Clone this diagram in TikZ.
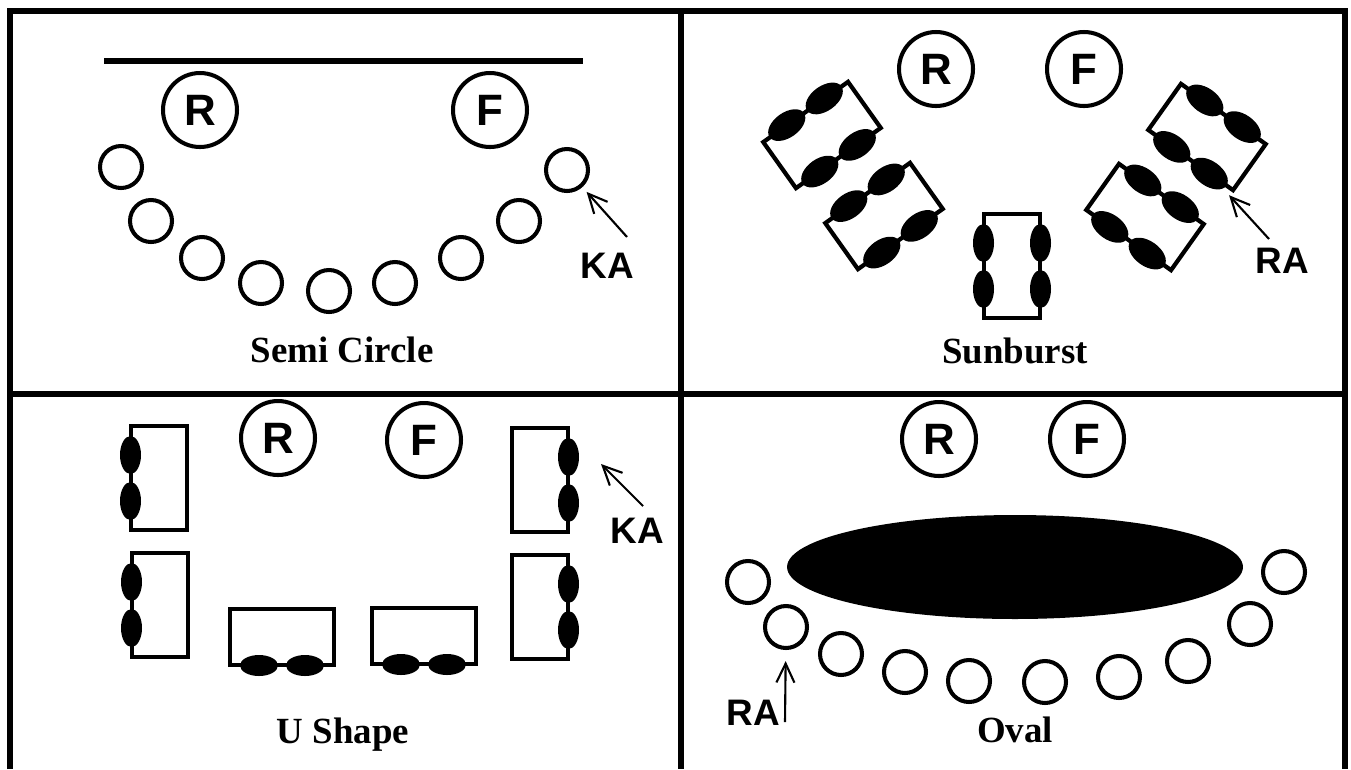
\documentclass[tikz,border=0pt]{standalone}
\usepackage{fontspec}
\setmainfont{Liberation Serif}
\setsansfont{Liberation Sans}
\usetikzlibrary{arrows.meta,shapes.geometric}
\tikzset{
    seating plan/.style = {x=0.02cm, y=-0.02cm,
                           >={Straight Barb[length=3.8mm, width=3.6mm]}},
    frame/.style        = {line width=3pt},
    podium/.style       = {line width=2.9pt},
    lead/.style         = {draw, circle, line width=2.3pt, inner sep=0pt,
                           minimum size=1.48cm,
                           font=\sffamily\bfseries\fontsize{25}{30}\selectfont},
    seat/.style         = {draw, circle, line width=2.3pt, inner sep=0pt,
                           minimum size=0.84cm},
    desk/.style         = {draw, rectangle, line width=2.4pt, inner sep=0pt,
                           minimum width=2.08cm, minimum height=1.13cm},
    chair/.style        = {ellipse, fill, inner sep=0pt,
                           minimum width=0.76cm, minimum height=0.42cm},
    wide chairs/.style  = {chair/.append style={minimum width=0.84cm,
                                                minimum height=0.5cm}},
    oval desk/.style    = {ellipse, fill, inner sep=0pt,
                           minimum width=9.12cm, minimum height=2.08cm},
    pointer/.style      = {->, line width=1.2pt},
    tag/.style          = {anchor=base,
                           font=\sffamily\bfseries\fontsize{21}{25}\selectfont},
    plan name/.style    = {anchor=base,
                           font=\bfseries\fontsize{21}{25}\selectfont}
}
% desk with two chairs on each listed long side (-1, 1)
\newcommand\placedesk[6][]{%
    \begin{scope}[#1, shift={(#3,#4)}, rotate=#5, transform shape]
        \node[desk] (#2) at (0,0) {};
        \foreach \s in {#6} {
            \node[chair] (#2a\s) at (-23,\s*28.5) {};
            \node[chair] (#2b\s) at (23,\s*28.5) {};
        }
    \end{scope}}

\begin{document}
\begin{tikzpicture}[seating plan]
\useasboundingbox (0,0) rectangle (1351,769);

% Panel frame, open at the bottom edge.
\draw[frame] (10,769) -- (10,11) -- (1345,11) -- (1345,769);
\draw[frame] (10,394) -- (1345,394);
\draw[frame] (681,11) -- (681,769);

% Semi circle.
\draw[podium] (104,61) -- (583,61);
\node[lead] (scR) at (200,110) {R};
\node[lead] (scF) at (490,110) {F};
\foreach \x/\y [count=\i] in {121/167, 151/221, 202/258, 261/283, 329/291,
                             395/283, 461/258, 519/221, 567/170}
    \node[seat] (sc\i) at (\x,\y) {};
\node[tag] (scKA) at (607,278) {KA};
\coordinate (scTail) at (627,237);
\draw[pointer, shorten >=3.6pt] (scTail) -- (sc9);
\node[plan name] (scName) at (342,362) {Semi Circle};

% Sunburst.
\node[lead] (sbR) at (936,69) {R};
\node[lead] (sbF) at (1084,69) {F};
\placedesk[wide chairs]{sbT1}{822}{135}{35.4}{-1,1}
\placedesk[wide chairs]{sbT2}{884}{216}{35.4}{-1,1}
\placedesk{sbT3}{1012}{266}{90}{-1,1}
\placedesk[wide chairs]{sbT4}{1145}{217}{-35.4}{-1,1}
\placedesk[wide chairs]{sbT5}{1207}{137}{-35.4}{-1,1}
\node[tag] (sbRA) at (1282,273) {RA};
\coordinate (sbTail) at (1269,239);
\draw[pointer, shorten >=5pt] (sbTail) -- (sbT5b1);
\node[plan name] (sbName) at (1015,363) {Sunburst};

% U shape.
\node[lead] (usR) at (278,438) {R};
\node[lead] (usF) at (424,440) {F};
\placedesk{usT1}{159}{478}{90}{-1}
\placedesk{usT2}{160}{605}{90}{-1}
\placedesk{usT3}{282}{637}{0}{1}
\placedesk{usT4}{424}{636}{0}{1}
\placedesk{usT5}{540}{480}{90}{1}
\placedesk{usT6}{540}{607}{90}{1}
\node[tag] (usKA) at (637,543) {KA};
\coordinate (usTail) at (643,506);
\coordinate (usTip) at (601,464);
\draw[pointer] (usTail) -- (usTip);
\node[plan name] (usName) at (343,743) {U Shape};

% Oval.
\node[lead] (ovR) at (939,439) {R};
\node[lead] (ovF) at (1087,439) {F};
\node[oval desk] (ovT) at (1015,567) {};
\foreach \x/\y [count=\i] in {748/582, 786/627, 841/654, 905/672, 969/681,
                             1045/682, 1119/677, 1188/661, 1250/624, 1284/572}
    \node[seat] (ov\i) at (\x,\y) {};
\node[tag] (ovRA) at (753,725) {RA};
\coordinate (ovTail) at (785,722);
\draw[pointer, shorten >=6.3pt] (ovTail) -- (ov2);
\node[plan name] (ovName) at (1015,742) {Oval};

\end{tikzpicture}
\end{document}
